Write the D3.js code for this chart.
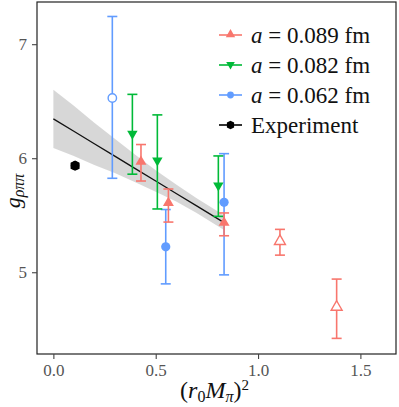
<!DOCTYPE html>
<html>
<head>
<meta charset="utf-8">
<script src="https://cdn.jsdelivr.net/npm/d3@7"></script>
<style>
  body { margin: 0; background: #fff; }
</style>
</head>
<body>
<div id="plot"></div>
<script>
// a = 0.089 fm (red, up triangles)
const redX    = [0.428, 0.562, 0.834, 1.107, 1.384];
const redY    = [5.965, 5.605, 5.43, 5.267, 4.69];
const redLo   = [5.80, 5.44, 5.32, 5.15, 4.42];
const redHi   = [6.12, 5.73, 5.52, 5.376, 4.94];
const redOpen = [false, false, false, true, true];

// a = 0.082 fm (green, down triangles)
const greenX  = [0.386, 0.508, 0.806];
const greenY  = [6.205, 5.97, 5.75];
const greenLo = [5.86, 5.555, 5.49];
const greenHi = [6.56, 6.38, 6.02];

// a = 0.062 fm (blue, circles)
const blueX    = [0.288, 0.549, 0.834];
const blueY    = [6.528, 5.223, 5.613];
const blueLo   = [5.824, 4.898, 4.977];
const blueHi   = [7.243, 5.55, 6.04];
const blueOpen = [true, false, false];

// experiment
const expX = [0.106];
const expY = [5.935];

// fit line and band
const fitX  = [0, 0.1, 0.2, 0.3, 0.4, 0.5, 0.6, 0.7, 0.83];
const fitY  = [6.345, 6.236, 6.127, 6.018, 5.909, 5.80, 5.691, 5.582, 5.44];
const fitLo = [6.09, 6.02, 5.94, 5.87, 5.79, 5.705, 5.62, 5.52, 5.375];
const fitHi = [6.60, 6.46, 6.31, 6.17, 6.03, 5.895, 5.77, 5.65, 5.505];

const xTicks = [0.0, 0.5, 1.0, 1.5];
const yTicks = [5, 6, 7];

const legendLabels = ["0.089", "0.082", "0.062"];

const colors = { red: "#F8766D", green: "#00BA38", blue: "#619CFF" };
const serif = "'Liberation Serif', 'DejaVu Serif', serif";

const W = 399, H = 407;
const box = { left: 37, right: 396, top: 2, bottom: 354 };

const svg = d3.select("#plot").append("svg")
  .attr("width", W).attr("height", H)
  .attr("font-family", serif);

const x = d3.scaleLinear().domain([-0.08, 1.674]).range([box.left, box.right]);
const y = d3.scaleLinear().domain([4.283, 7.37]).range([box.bottom, box.top]);

// band
const band = fitX.map((d, i) => ({ x: d, lo: fitLo[i], hi: fitHi[i] }));
svg.append("path")
  .datum(band)
  .attr("d", d3.area().x(d => x(d.x)).y0(d => y(d.lo)).y1(d => y(d.hi)))
  .attr("fill", "#d3d3d3")
  .attr("opacity", 0.9);

svg.append("path")
  .datum(fitX.map((d, i) => [d, fitY[i]]))
  .attr("d", d3.line().x(d => x(d[0])).y(d => y(d[1])))
  .attr("fill", "none")
  .attr("stroke", "#111")
  .attr("stroke-width", 1.3);

const triUp = d3.symbol().type(d3.symbolTriangle).size(52);
const triDown = "M-5.2,-4.2L5.2,-4.2L0,4.8Z";

function errorBars(xs, lo, hi, color) {
  const g = svg.append("g").attr("stroke", color).attr("stroke-width", 1.6);
  xs.forEach((xv, i) => {
    g.append("line").attr("x1", x(xv)).attr("x2", x(xv))
      .attr("y1", y(lo[i])).attr("y2", y(hi[i]));
    [lo[i], hi[i]].forEach(v => {
      g.append("line").attr("x1", x(xv) - 5).attr("x2", x(xv) + 5)
        .attr("y1", y(v)).attr("y2", y(v));
    });
  });
}

// blue first, then green, then red (draw order)
errorBars(blueX, blueLo, blueHi, colors.blue);
blueX.forEach((xv, i) => {
  svg.append("circle")
    .attr("cx", x(xv)).attr("cy", y(blueY[i])).attr("r", blueOpen[i] ? 4.2 : 4.6)
    .attr("fill", blueOpen[i] ? "#fff" : colors.blue)
    .attr("stroke", colors.blue).attr("stroke-width", blueOpen[i] ? 1.4 : 0);
});

errorBars(greenX, greenLo, greenHi, colors.green);
greenX.forEach((xv, i) => {
  svg.append("path")
    .attr("d", triDown)
    .attr("transform", `translate(${x(xv)},${y(greenY[i])})`)
    .attr("fill", colors.green);
});

errorBars(redX, redLo, redHi, colors.red);
redX.forEach((xv, i) => {
  svg.append("path")
    .attr("d", triUp())
    .attr("transform", `translate(${x(xv)},${y(redY[i]) - 0.5})`)
    .attr("fill", redOpen[i] ? "#fff" : colors.red)
    .attr("stroke", colors.red).attr("stroke-width", redOpen[i] ? 1.4 : 0);
});

// experiment
expX.forEach((xv, i) => {
  svg.append("path")
    .attr("d", d3.symbol().type(d3.symbolCircle).size(58)())
    .attr("transform", `translate(${x(xv)},${y(expY[i])})`)
    .attr("fill", "#000");
  svg.append("path")
    .attr("d", "M-3,-4.5L3,-4.5L5.2,0L3,4.5L-3,4.5L-5.2,0Z")
    .attr("transform", `translate(${x(xv)},${y(expY[i])}) rotate(90)`)
    .attr("fill", "#000");
});

// frame
svg.append("rect")
  .attr("x", box.left).attr("y", box.top)
  .attr("width", box.right - box.left).attr("height", box.bottom - box.top)
  .attr("fill", "none").attr("stroke", "#222").attr("stroke-width", 1.2);

// axes
const xAxis = svg.append("g")
  .attr("transform", `translate(0,${box.bottom})`)
  .call(d3.axisBottom(x).tickValues(xTicks).tickFormat(d3.format(".1f")).tickSize(5).tickPadding(5));
const yAxis = svg.append("g")
  .attr("transform", `translate(${box.left},0)`)
  .call(d3.axisLeft(y).tickValues(yTicks).tickFormat(d3.format("d")).tickSize(5).tickPadding(5));
[xAxis, yAxis].forEach(a => {
  a.attr("font-family", serif).attr("font-size", 17);
  a.select(".domain").remove();
  a.selectAll(".tick line").attr("stroke", "#444").attr("stroke-width", 1.1);
  a.selectAll(".tick text").attr("fill", "#555");
});

// axis labels
const xl = svg.append("text")
  .attr("x", (box.left + box.right) / 2 - 2).attr("y", 398)
  .attr("text-anchor", "middle").attr("font-size", 24).attr("fill", "#111");
xl.append("tspan").text("(");
xl.append("tspan").attr("font-style", "italic").text("r");
xl.append("tspan").attr("dy", 4).attr("font-size", 16).text("0");
xl.append("tspan").attr("dy", -4).attr("font-style", "italic").text("M");
xl.append("tspan").attr("dy", 4).attr("font-size", 16).attr("font-style", "italic").text("π");
xl.append("tspan").attr("dy", -4).text(")");
xl.append("tspan").attr("dy", -8).attr("font-size", 15).text("2");

const yl = svg.append("text")
  .attr("transform", "translate(20,191) rotate(-90)")
  .attr("text-anchor", "middle").attr("font-size", 22).attr("fill", "#111");
yl.append("tspan").attr("font-style", "italic").text("g");
yl.append("tspan").attr("dy", 4).attr("font-size", 16).attr("font-style", "italic").text("ρππ");

// legend
const legRows = [
  { color: colors.red, marker: "up", label: legendLabels[0] },
  { color: colors.green, marker: "down", label: legendLabels[1] },
  { color: colors.blue, marker: "circle", label: legendLabels[2] },
  { color: "#000", marker: "exp", label: null }
];
const leg = svg.append("g");
legRows.forEach((r, i) => {
  const cy = 37 + i * 30;
  leg.append("line").attr("x1", 219).attr("x2", 242).attr("y1", cy - 2).attr("y2", cy - 2)
    .attr("stroke", r.color).attr("stroke-width", 1.6);
  const m = leg.append("path").attr("fill", r.color);
  if (r.marker === "up") m.attr("d", d3.symbol().type(d3.symbolTriangle).size(38)()).attr("transform", `translate(230.5,${cy - 2.5})`);
  if (r.marker === "down") m.attr("d", "M-4.3,-3.5L4.3,-3.5L0,4Z").attr("transform", `translate(230.5,${cy - 1.5})`);
  if (r.marker === "circle") m.attr("d", d3.symbol().type(d3.symbolCircle).size(36)()).attr("transform", `translate(230.5,${cy - 2})`);
  if (r.marker === "exp") m.attr("d", "M-2.4,-3.6L2.4,-3.6L4.2,0L2.4,3.6L-2.4,3.6L-4.2,0Z").attr("transform", `translate(230.5,${cy - 2}) rotate(90)`);
  const t = leg.append("text").attr("x", 251).attr("y", cy + 6).attr("font-size", 23).attr("fill", "#111");
  if (r.label) {
    t.append("tspan").attr("font-style", "italic").text("a");
    t.append("tspan").text(" = " + r.label + " fm");
  } else {
    t.text("Experiment");
  }
});
</script>
</body>
</html>
